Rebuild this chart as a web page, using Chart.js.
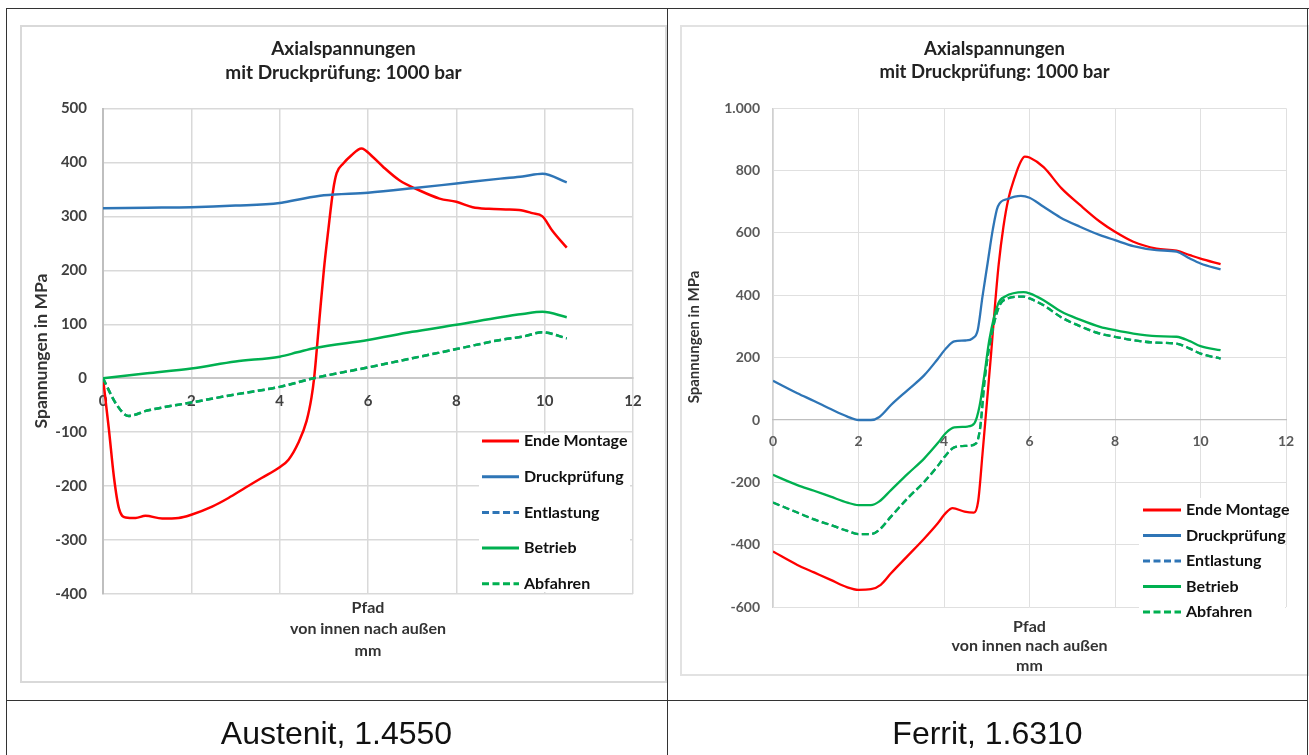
<!DOCTYPE html>
<html lang="de">
<head>
<meta charset="utf-8">
<title>Axialspannungen</title>
<script src="https://cdn.jsdelivr.net/npm/chart.js@4.4.1/dist/chart.umd.min.js"></script>
<style>
  html, body { margin: 0; padding: 0; background: #fff; }
  body { width: 1309px; height: 755px; position: relative; overflow: hidden; }
  .linie { position: absolute; background: #333; }
  .rahmen { position: absolute; box-sizing: border-box; }
  canvas { position: absolute; }
  .unterschrift {
    position: absolute; top: 700px; height: 55px; line-height: 66px; text-align: center;
    font-family: "Liberation Sans", Arial, sans-serif; font-size: 32px; color: #111;
  }
</style>
</head>
<body>
<div class="rahmen" style="left:20px;top:25px;width:647px;height:658px;border:2px solid #d9d9d9"></div>
<div class="rahmen" style="left:680px;top:25px;width:629px;height:651px;border:2px solid #e2e2e2"></div>
<canvas id="austenit" width="645" height="656" style="left:21px;top:26px"></canvas>
<canvas id="ferrit" width="627" height="654" style="left:681px;top:26px"></canvas>

<div class="linie" style="left:6px;top:8px;width:1303px;height:1px"></div>
<div class="linie" style="left:6px;top:8px;width:1px;height:747px"></div>
<div class="linie" style="left:667px;top:8px;width:1px;height:747px"></div>
<div class="linie" style="left:1307px;top:8px;width:1px;height:747px"></div>
<div class="linie" style="left:6px;top:700px;width:1302px;height:1px"></div>
<div class="unterschrift" style="left:6px;width:661px">Austenit, 1.4550</div>
<div class="unterschrift" style="left:667px;width:641px">Ferrit, 1.6310</div>

<script>
"use strict";

let titel = ["Axialspannungen", "mit Druckprüfung: 1000 bar"];
let xTitel = ["Pfad", "von innen nach außen", "mm"];
let yTitel = "Spannungen in MPa";
let reihenNamen = ["Ende Montage", "Druckprüfung", "Entlastung", "Betrieb", "Abfahren"];

// Austenit 1.4550 (Pfad in mm, Spannung in MPa)
let austMontageX = [0, 0.13, 0.25, 0.36, 0.51, 0.74, 0.96, 1.34, 1.71, 2.0, 2.47, 2.84, 3.22, 3.59, 4.0, 4.2, 4.42, 4.61, 4.72, 4.78, 4.89, 5.0, 5.1, 5.21, 5.29, 5.44, 5.62, 5.85, 6.11, 6.34, 6.71, 7.17, 7.62, 8.0, 8.37, 8.74, 9.12, 9.42, 9.72, 9.95, 10.17, 10.5];
let austMontageY = [0, -92, -185, -241, -258, -259, -255, -260, -259, -253, -238, -222, -203, -185, -165, -151, -120, -79, -36, 0, 100, 200, 274, 348, 380, 398, 413, 426, 410, 392, 367, 348, 333, 327, 317, 314, 313, 312, 306, 300, 274, 242];
let austDruckX = [0, 1, 2, 3, 4, 4.4, 5, 6, 7, 8, 9, 9.5, 9.95, 10.5];
let austDruckY = [315, 316, 317, 320, 325, 331, 339, 344, 352, 361, 370, 374, 379, 363];
let austBetriebX = [0, 1, 2, 3, 4, 4.4, 4.8, 6, 7, 8, 9, 9.5, 9.95, 10.5];
let austBetriebY = [0, 9, 18, 31, 40, 48, 56, 71, 86, 99, 113, 119, 123, 113];
let austAbfahrenX = [0, 0.3, 0.58, 1, 2, 3, 4, 4.77, 6, 7, 8, 9, 9.5, 9.95, 10.5];
let austAbfahrenY = [0, -48, -70, -60, -45, -30, -16, 0, 20, 37, 54, 71, 77, 85, 74];
// Entlastung liegt unter Abfahren (nicht sichtbar)
let austEntlastungX = austAbfahrenX;
let austEntlastungY = austAbfahrenY;

// Ferrit 1.6310
let ferMontageX = [0, 0.57, 0.96, 1.35, 1.74, 2.0, 2.29, 2.52, 2.76, 3.15, 3.54, 3.85, 4.05, 4.2, 4.48, 4.7, 4.8, 4.9, 5.0, 5.1, 5.2, 5.28, 5.39, 5.5, 5.66, 5.8, 5.89, 6.0, 6.33, 6.75, 7.18, 7.65, 8.0, 8.43, 8.97, 9.44, 9.75, 10.0, 10.47];
let ferMontageY = [-422, -465, -489, -513, -537, -545, -543, -529, -492, -436, -380, -332, -297, -283, -294, -297, -260, -110, 50, 210, 380, 500, 620, 706, 781, 830, 845, 842, 811, 743, 690, 636, 604, 572, 550, 543, 529, 518, 500];
let ferDruckX = [0, 0.57, 0.96, 1.35, 1.74, 2.0, 2.29, 2.48, 2.76, 3.15, 3.54, 3.85, 4.05, 4.24, 4.5, 4.67, 4.79, 4.9, 5.02, 5.14, 5.26, 5.49, 5.8, 6.0, 6.33, 6.72, 7.18, 7.65, 8.0, 8.43, 8.97, 9.44, 9.75, 10.0, 10.47];
let ferDruckY = [126, 86, 61, 35, 11, 0, 0, 9, 48, 96, 144, 195, 230, 252, 255, 262, 289, 396, 503, 610, 685, 709, 719, 713, 684, 650, 620, 593, 577, 558, 545, 540, 518, 502, 483];
let ferBetriebX = [0, 0.57, 0.96, 1.35, 1.74, 2.0, 2.29, 2.48, 2.76, 3.15, 3.54, 3.85, 4.05, 4.24, 4.55, 4.71, 4.83, 4.95, 5.06, 5.27, 5.43, 5.86, 6.0, 6.33, 6.75, 7.18, 7.65, 8.0, 8.43, 8.97, 9.44, 9.75, 10.0, 10.47];
let ferBetriebY = [-176, -209, -227, -246, -265, -273, -273, -262, -225, -173, -123, -75, -41, -24, -21, -11, 43, 150, 257, 374, 396, 410, 406, 384, 347, 322, 299, 288, 277, 269, 267, 253, 237, 224];
let ferAbfahrenX = [0, 0.57, 0.96, 1.35, 1.74, 2.0, 2.29, 2.48, 2.76, 3.15, 3.54, 3.85, 4.05, 4.24, 4.55, 4.75, 4.85, 4.95, 5.06, 5.27, 5.43, 5.86, 6.0, 6.33, 6.75, 7.18, 7.65, 8.0, 8.43, 8.97, 9.44, 9.75, 10.0, 10.47];
let ferAbfahrenY = [-265, -297, -319, -337, -356, -366, -366, -353, -310, -251, -198, -148, -112, -88, -83, -75, -21, 128, 235, 358, 387, 396, 390, 368, 329, 301, 277, 267, 256, 248, 245, 229, 213, 197];
let ferEntlastungX = ferAbfahrenX;
let ferEntlastungY = ferAbfahrenY;

// Linienstil je Reihe
let reihenFarben = ["#ff0000", "#2e75b6", "#2e75b6", "#00b050", "#00b050"];
let reihenStriche = [[], [], [7, 3.5], [], [7, 3.5]];

function punkte(xs, ys) {
  return xs.map(function (x, i) {
    return { x: x, y: ys[i] };
  });
}

// deutsche Tausenderpunkte: 1000 -> 1.000
function formatDe(wert) {
  return String(wert).replace(/\B(?=(\d{3})+(?!\d))/g, ".");
}

// Legende innerhalb der Zeichenfläche + y-Achsentitel
const innenLegende = {
  id: "innenLegende",
  beforeDatasetsDraw(chart, args, opts) {
    if (!opts.box) return;
    chart.ctx.save();
    chart.ctx.fillStyle = "#ffffff";
    chart.ctx.fillRect(opts.box[0], opts.box[1], opts.box[2], opts.box[3]);
    chart.ctx.restore();
  },
  afterDatasetsDraw(chart, args, opts) {
    let ctx = chart.ctx;
    ctx.save();
    ctx.font = opts.font;
    ctx.textBaseline = "middle";
    chart.data.datasets.forEach(function (ds, i) {
      let y = opts.y + i * opts.step;
      ctx.beginPath();
      ctx.strokeStyle = ds.borderColor;
      ctx.lineWidth = opts.lineWidth;
      ctx.setLineDash(ds.borderDash || []);
      ctx.moveTo(opts.x, y);
      ctx.lineTo(opts.x + opts.len, y);
      ctx.stroke();
      ctx.fillStyle = opts.color;
      ctx.fillText(ds.label, opts.x + opts.len + opts.gap, y);
    });
    // Achsentitel links, gedreht
    let yt = opts.yTitel;
    ctx.translate(yt.x, yt.y);
    ctx.rotate(-Math.PI / 2);
    ctx.font = yt.font;
    ctx.fillStyle = "#333";
    ctx.textAlign = "center";
    ctx.fillText(yTitel, 0, 0);
    ctx.restore();
  },
};

function baueDiagramm(id, daten, s) {
  let ctx = document.getElementById(id).getContext("2d");
  let schrift = function (groesse, lh) {
    return { family: "Lato", weight: "bold", size: groesse, lineHeight: lh };
  };
  return new Chart(ctx, {
    type: "line",
    data: {
      datasets: reihenNamen.map(function (name, i) {
        return {
          label: name,
          data: daten[i],
          borderColor: reihenFarben[i],
          borderWidth: s.linie,
          borderDash: reihenStriche[i],
          pointRadius: 0,
          fill: false,
          cubicInterpolationMode: "monotone",
          order: 5 - i,
        };
      }),
    },
    options: {
      responsive: false,
      animation: false,
      events: [],
      layout: { padding: 0 },
      scales: {
        y: {
          type: "linear",
          min: s.yMin,
          max: s.yMax,
          ticks: {
            stepSize: s.yStep,
            padding: s.yTickPad,
            color: s.tickFarbe,
            font: schrift(s.tickGroesse, 1.2),
            callback: formatDe,
          },
          grid: { color: s.gitter, lineWidth: s.gitterBreite, drawTicks: false },
          border: { color: s.achse, width: s.achseBreite },
          afterFit: function (scale) {
            scale.width = s.links;
          },
        },
        x: {
          type: "linear",
          position: { y: 0 },
          min: 0,
          max: 12,
          ticks: {
            stepSize: 2,
            padding: s.xTickPad,
            color: s.tickFarbe,
            font: schrift(s.tickGroesse, 1.2),
            maxRotation: 0,
          },
          grid: { color: s.gitter, lineWidth: s.gitterBreite, drawTicks: false },
          border: { color: s.nullLinie, width: s.achseBreite },
        },
        rechts: {
          type: "linear",
          axis: "y",
          position: "right",
          grid: { display: false },
          border: { display: false },
          ticks: { display: false },
          afterFit: function (scale) {
            scale.width = s.rechts;
          },
        },
      },
      plugins: {
        legend: { display: false },
        tooltip: { enabled: false },
        title: {
          display: true,
          text: titel,
          color: "#222",
          font: schrift(s.titelGroesse, s.titelZeile),
          padding: s.titelPad,
        },
        subtitle: {
          display: true,
          position: "bottom",
          fullSize: false,
          text: xTitel,
          color: "#333",
          font: schrift(s.xTitelGroesse, s.xTitelZeile),
          padding: s.xTitelPad,
        },
        innenLegende: s.legende,
      },
    },
    plugins: [innenLegende],
  });
}

function zeichnen() {
  baueDiagramm(
    "austenit",
    [
      punkte(austMontageX, austMontageY),
      punkte(austDruckX, austDruckY),
      punkte(austEntlastungX, austEntlastungY),
      punkte(austBetriebX, austBetriebY),
      punkte(austAbfahrenX, austAbfahrenY),
    ],
    {
      yMin: -400, yMax: 500, yStep: 100,
      links: 82, rechts: 33,
      linie: 2.5,
      tickGroesse: 15, tickFarbe: "#404040", yTickPad: 16, xTickPad: 14,
      gitter: "#d9d9d9", gitterBreite: 1.5, achse: "#bfbfbf", nullLinie: "#c8c8c8", achseBreite: 2,
      titelGroesse: 19, titelZeile: "24px", titelPad: { top: 11, bottom: 23.5 },
      xTitelGroesse: 16, xTitelZeile: "21.5px", xTitelPad: { top: 3, bottom: 20.5 },
      legende: {
        x: 461, y: 415, step: 35.7, len: 37, gap: 5, lineWidth: 3,
        font: "bold 16px Lato", color: "#111",
        box: [458, 408, 151, 158],
        yTitel: { x: 20, y: 325, font: "bold 17.5px Lato" },
      },
    }
  );

  baueDiagramm(
    "ferrit",
    [
      punkte(ferMontageX, ferMontageY),
      punkte(ferDruckX, ferDruckY),
      punkte(ferEntlastungX, ferEntlastungY),
      punkte(ferBetriebX, ferBetriebY),
      punkte(ferAbfahrenX, ferAbfahrenY),
    ],
    {
      yMin: -600, yMax: 1000, yStep: 200,
      links: 92, rechts: 22,
      linie: 2.3,
      tickGroesse: 14, tickFarbe: "#595959", yTickPad: 13, xTickPad: 13,
      gitter: "#e0e0e0", gitterBreite: 1, achse: "#d0d0d0", nullLinie: "#bfbfbf", achseBreite: 1.3,
      titelGroesse: 18.5, titelZeile: "22.4px", titelPad: { top: 12, bottom: 25.5 },
      xTitelGroesse: 16, xTitelZeile: "19.5px", xTitelPad: { top: 10, bottom: 4.5 },
      legende: {
        x: 462, y: 484, step: 25.5, len: 38, gap: 5, lineWidth: 3,
        font: "bold 16px Lato", color: "#111",
        box: [458, 472, 146, 150],
        yTitel: { x: 13, y: 311, font: "bold 15px Lato" },
      },
    }
  );
}

document.fonts.load("bold 16px Lato").then(zeichnen, zeichnen);
</script>
</body>
</html>
